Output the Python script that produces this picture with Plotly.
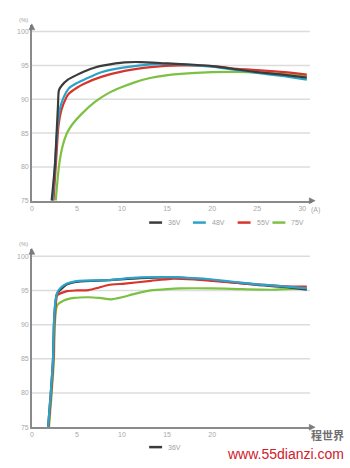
import plotly.graph_objects as go

W, H = 350, 468

series_names = ["36V", "48V", "55V", "75V"]
series_colors = ["#3b3b3b", "#2ba3c9", "#d7352c", "#7cc142"]

# ---- top chart data (efficiency %, current A) ----
top_x_36 = [2.2, 2.55, 2.75, 2.9, 3.0, 3.3, 4.0, 5.0, 5.8, 7.0, 8.0, 10.3, 12.0, 15.0, 18.0, 20.0, 22.8, 25.0, 28.0, 30.5]
top_y_36 = [75, 80, 85, 89, 91.3, 92.0, 92.9, 93.6, 94.1, 94.7, 95.0, 95.45, 95.5, 95.3, 95.1, 94.9, 94.4, 94.0, 93.6, 93.2]
top_x_48 = [2.3, 2.6, 2.85, 3.1, 3.5, 4.1, 5.0, 5.8, 7.7, 10.3, 13.2, 16.0, 20.0, 22.8, 25.0, 28.0, 30.5]
top_y_48 = [75, 81, 86, 88.5, 90.2, 91.6, 92.4, 92.9, 94.0, 94.7, 95.15, 95.2, 94.8, 94.3, 93.9, 93.4, 92.9]
top_x_55 = [2.4, 2.7, 2.95, 3.3, 3.8, 4.1, 5.0, 5.8, 7.7, 10.3, 13.2, 16.5, 20.0, 22.8, 25.0, 28.0, 30.5]
top_y_55 = [75, 81, 86, 88.5, 90.2, 90.8, 91.7, 92.3, 93.3, 94.2, 94.75, 95.0, 94.9, 94.5, 94.3, 94.0, 93.65]
top_x_75 = [2.65, 3.0, 3.4, 3.9, 4.5, 5.5, 7.0, 8.5, 10.0, 11.4, 13.0, 14.7, 16.5, 20.0, 22.8, 25.0, 28.0, 30.5]
top_y_75 = [75, 80, 83, 85, 86.3, 87.8, 89.6, 90.9, 91.8, 92.5, 93.1, 93.5, 93.75, 94.0, 94.05, 93.95, 93.7, 93.4]

# ---- bottom chart data ----
bot_x_36 = [1.8, 2.1, 2.35, 2.45, 2.6, 2.8, 3.9, 5.2, 8.5, 12.0, 15.4, 20.0, 22.8, 25.0, 28.0, 30.5]
bot_y_36 = [75, 80, 85, 90, 93, 94.5, 95.9, 96.3, 96.5, 96.8, 96.9, 96.5, 96.1, 95.8, 95.5, 95.1]
bot_x_48 = [1.8, 2.1, 2.35, 2.45, 2.6, 2.8, 3.2, 3.9, 5.2, 8.5, 10.0, 12.1, 15.4, 18.0, 20.0, 22.8, 25.0, 28.0, 30.5]
bot_y_48 = [75, 80, 85, 90, 93.2, 94.6, 95.4, 96.0, 96.4, 96.5, 96.7, 96.9, 96.95, 96.8, 96.6, 96.2, 95.9, 95.6, 95.3]
bot_x_55 = [1.85, 2.15, 2.4, 2.5, 2.7, 2.8, 3.9, 5.0, 6.3, 7.4, 8.5, 10.3, 13.2, 15.4, 18.0, 20.0, 22.8, 25.0, 28.0, 30.5]
bot_y_55 = [75, 80, 85, 90, 93.5, 94.3, 94.9, 95.0, 95.05, 95.4, 95.8, 96.0, 96.4, 96.7, 96.6, 96.4, 96.1, 95.9, 95.6, 95.55]
bot_x_75 = [1.9, 2.2, 2.45, 2.55, 2.8, 3.5, 4.7, 6.3, 7.5, 8.8, 10.0, 11.4, 13.2, 15.0, 16.5, 20.0, 22.8, 26.5, 28.0, 30.5]
bot_y_75 = [75, 80, 85, 90, 92.8, 93.5, 93.9, 94.0, 93.9, 93.7, 94.0, 94.5, 95.0, 95.2, 95.3, 95.3, 95.2, 95.1, 95.2, 95.3]

x_ticks_top = [0, 5, 10, 15, 20, 25, 30]
x_ticks_bot = [0, 5, 10, 15, 20]
y_ticks = [75, 80, 85, 90, 95, 100]

top_data = [(top_x_36, top_y_36), (top_x_48, top_y_48), (top_x_55, top_y_55), (top_x_75, top_y_75)]
bot_data = [(bot_x_36, bot_y_36), (bot_x_48, bot_y_48), (bot_x_55, bot_y_55), (bot_x_75, bot_y_75)]

def py(px):
    return 1 - px / H

def pxx(px):
    return px / W

fig = go.Figure()

order_top = [3, 2, 1, 0]
for i in order_top:
    x, y = top_data[i]
    fig.add_trace(go.Scatter(x=x, y=y, mode="lines", name=series_names[i],
                             line=dict(color=series_colors[i], width=2.2, shape="spline", smoothing=0.6),
                             xaxis="x", yaxis="y", showlegend=False, hoverinfo="skip"))
order_bot = [3, 0, 2, 1]
for i in order_bot:
    x, y = bot_data[i]
    fig.add_trace(go.Scatter(x=x, y=y, mode="lines", name=series_names[i],
                             line=dict(color=series_colors[i], width=2.2, shape="spline", smoothing=0.6),
                             xaxis="x2", yaxis="y2", showlegend=False, hoverinfo="skip"))

x_dom = [pxx(30), pxx(312)]
x_range = [0, 31.1]
tick_font = dict(family="Liberation Sans, Arial, sans-serif", size=7, color="#a8a8a8")

common_x = dict(domain=x_dom, range=x_range, showgrid=False, zeroline=False,
                showline=True, linecolor="#8a8a8a", linewidth=1.5, ticks="",
                tickfont=tick_font, fixedrange=True)
common_y = dict(range=[75, 101], showgrid=False, zeroline=False,
                showline=True, linecolor="#8a8a8a", linewidth=1.5, ticks="",
                tickvals=y_ticks, ticktext=[str(v) for v in y_ticks],
                tickfont=tick_font, fixedrange=True)

fig.update_layout(
    width=W, height=H,
    margin=dict(l=0, r=0, t=0, b=0),
    paper_bgcolor="white", plot_bgcolor="white",
    showlegend=False,
    xaxis=dict(**common_x, anchor="y", tickvals=x_ticks_top, ticktext=[str(v) for v in x_ticks_top]),
    yaxis=dict(**common_y, domain=[py(202), py(25)], anchor="x"),
    xaxis2=dict(**common_x, anchor="y2", tickvals=x_ticks_bot, ticktext=[str(v) for v in x_ticks_bot]),
    yaxis2=dict(**common_y, domain=[py(430), py(251)], anchor="x2"),
)

shapes = []
for ax_y, ax_x in (("y", "x"), ("y2", "x2")):
    for v in y_ticks[1:]:
        shapes.append(dict(type="line", xref=ax_x, yref=ax_y, x0=0, x1=30.85, y0=v, y1=v,
                           line=dict(color="#dcdcdc", width=1.5), layer="below"))

annotations = []

# axis arrowheads as small triangles (pixel coordinates converted to paper)
def tri(points):
    d = "M " + " L ".join(f"{pxx(x):.5f},{py(y):.5f}" for x, y in points) + " Z"
    return dict(type="path", xref="paper", yref="paper", path=d,
                fillcolor="#7a7a7a", line=dict(color="#7a7a7a", width=0.5))

for top_px, base_px in ((25, 202), (251, 430)):
    shapes.append(tri([(27, top_px + 5), (30, top_px - 1), (33, top_px + 5)]))
    shapes.append(tri([(309, base_px - 3), (315, base_px), (309, base_px + 3)]))

for y_px in (20, 246):
    annotations.append(dict(x=pxx(22), y=py(y_px), xref="paper", yref="paper", text="(%)", showarrow=False,
                            font=dict(family="Liberation Sans, Arial, sans-serif", size=6, color="#a0a0a0"),
                            xanchor="center", yanchor="middle"))

annotations.append(dict(x=pxx(309), y=py(211), xref="paper", yref="paper", text="(A)", showarrow=False,
                        font=tick_font, xanchor="left", yanchor="middle"))

def add_legend(items, y_px):
    for i, (lx, tx) in items:
        shapes.append(dict(type="line", xref="paper", yref="paper", x0=pxx(lx), x1=pxx(lx + 13),
                           y0=py(y_px), y1=py(y_px), line=dict(color=series_colors[i], width=2.5)))
        annotations.append(dict(x=pxx(tx), y=py(y_px), xref="paper", yref="paper", text=series_names[i],
                                showarrow=False, xanchor="left", yanchor="middle",
                                font=dict(family="Liberation Sans, Arial, sans-serif", size=7, color="#a0a0a0")))

add_legend([(0, (148, 165)), (1, (192, 209)), (2, (237, 254)), (3, (272, 289))], 224)
add_legend([(0, (148, 165))], 450)

annotations.append(dict(x=pxx(346), y=py(438), xref="paper", yref="paper", text="<b>程世界</b>",
                        showarrow=False, xanchor="right", yanchor="middle",
                        font=dict(family="Noto Sans CJK SC", size=11, color="#6e6e6e")))
annotations.append(dict(x=pxx(346), y=py(457), xref="paper", yref="paper", text="www.55dianzi.com",
                        showarrow=False, xanchor="right", yanchor="middle",
                        font=dict(family="Liberation Sans, Arial, sans-serif", size=14, color="#d0202c")))

fig.update_layout(shapes=shapes, annotations=annotations)
fig.write_html("out.html")
